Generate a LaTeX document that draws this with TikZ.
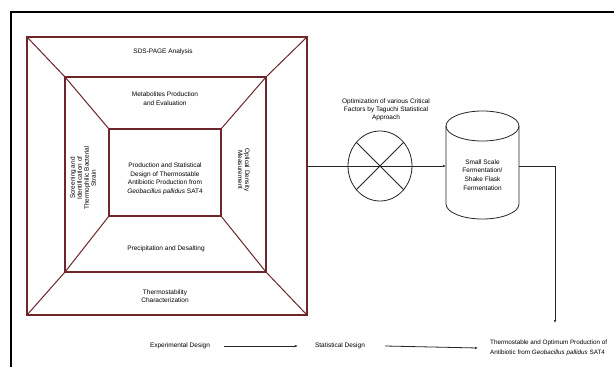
\documentclass[tikz,border=0pt]{standalone}
\usepackage{fontspec}
\setmainfont{Liberation Sans}
\usetikzlibrary{arrows.meta,shapes.geometric}
\definecolor{rim}{RGB}{110,38,44}
\begin{document}
\begin{tikzpicture}[x=1pt,y=-1pt,
 lbl/.style={font=\fontsize{6.5}{8.5}\selectfont, align=center, inner sep=0pt},
 rlbl/.style={font=\fontsize{6.4}{7}\selectfont, align=center, inner sep=0pt},
 panel/.style={draw=rim, line width=1.1pt, inner sep=0pt, outer sep=0pt},
 diag/.style={draw=rim, line width=1pt},
 conn/.style={draw=black!85, line width=0.8pt},
 arr/.style={conn, -{Latex[length=3pt,width=2.4pt]}},
]
\useasboundingbox (0,0) rectangle (614,367);
\fill[white] (0,0) rectangle (614,367);
\draw[line width=1.3pt] (11,372) -- (11,12) -- (620,12);

% nested frames
\node[panel, minimum width=280pt, minimum height=278pt] (outer) at (167,176) {};
\node[panel, minimum width=201pt, minimum height=195pt] (mid) at (165.5,174.5) {};
\node[panel, minimum width=112pt, minimum height=87pt] (inner) at (165,172.5) {};
\foreach \c in {north west, north east, south west, south east}
  \draw[diag] (outer.\c) -- (mid.\c) -- (inner.\c);

\node[lbl] (sds) at (163,52) {SDS-PAGE Analysis};
\node[lbl] (meta) at (165,98.5) {Metabolites Production\\and Evaluation};
\node[lbl] (core) at (165,179) {Production and Statistical\\Design of Thermostable\\Antibiotic Production from\\\textit{Geobacillus pallidus} SAT4};
\node[lbl] (prec) at (166,249) {Precipitation and Desalting};
\node[lbl] (thermo) at (165,296) {Thermostability\\Characterization};
\node[rlbl, rotate=90] (screen) at (83,178) {Screening and\\Identification of\\Thermophilic Bacterial\\Strain};
\node[rlbl, rotate=-90] (od) at (244,170) {Optical Density\\Measurement};

% optimization circle
\node[conn, ellipse, minimum width=64pt, minimum height=70pt, inner sep=0pt] (opt) at (380,166) {};
\draw[conn] (opt.45) -- (opt.225) (opt.135) -- (opt.315);
\node[lbl, font=\fontsize{6.5}{8}\selectfont] (optlbl) at (386,110) {Optimization of various Critical\\Factors by Taguchi Statistical\\Approach};

% cylinder
\node[inner sep=0pt, outer sep=0pt, minimum width=73pt, minimum height=78pt] (cyl) at (482.5,165) {};
\draw[conn] (cyl.north) ellipse [x radius=36.5pt, y radius=15pt];
\draw[conn] (cyl.north west) -- (cyl.south west)
  arc[start angle=180, end angle=360, x radius=36.5pt, y radius=15pt] -- (cyl.north east);
\node[lbl, font=\fontsize{6.5}{8.7}\selectfont] (cyltxt) at (482.5,175) {Small Scale\\Fermentation/\\Shake Flask\\Fermentation};

% connectors
\draw[arr] (outer.east |- opt.center) -- (cyl.west |- opt.center);
\coordinate (tip) at (555,323);
\draw[arr] (cyl.east |- opt.center) -| (tip);

% bottom row
\node[lbl] (exp) at (180,346) {Experimental Design};
\node[lbl] (stat) at (340,346) {Statistical Design};
\node[lbl, font=\fontsize{6.3}{10}\selectfont, anchor=west, align=left] (final) at (490,348) {Thermostable and Optimum Production of\\Antibiotic from \textit{Geobacillus pallidus} SAT4};
\draw[arr] ([xshift=20pt]stat.east) -- ([xshift=-12pt]final.west);
\draw[arr] ([xshift=14pt]exp.east) -- ([xshift=-17pt]stat.west);
\end{tikzpicture}
\end{document}
